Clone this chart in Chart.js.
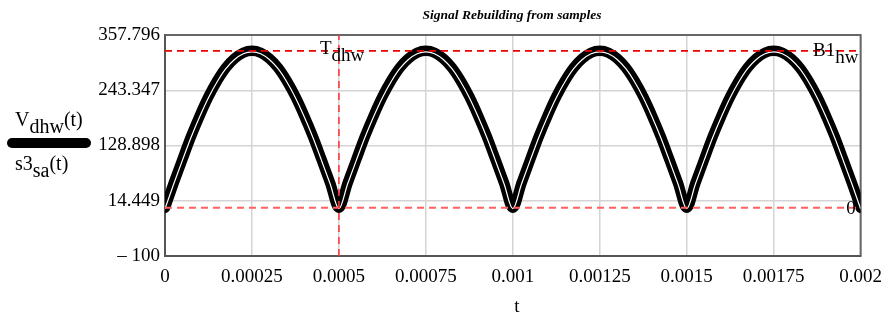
<!DOCTYPE html>
<html>
<head>
<meta charset="utf-8">
<script src="https://cdn.jsdelivr.net/npm/chart.js@4.4.1/dist/chart.umd.min.js"></script>
<style>
  html, body { margin: 0; padding: 0; background: #fff; }
  #wrap { width: 892px; height: 320px; }
</style>
</head>
<body>
<div id="wrap"><canvas id="plot" width="892" height="320"></canvas></div>
<script>
// time samples, one every 25 us over 0 .. 2 ms
const tStep = 0.000025;
const tSamples = Array.from({length: 81}, (_, i) => +(i * tStep).toFixed(6));

// rectified signal V_dhw(t)
const vDhw = [
    0, 51, 100, 148, 191, 230, 263, 290, 309, 321, 325, 321, 309, 290, 263, 230, 191, 148, 100, 51,
    0, 51, 100, 148, 191, 230, 263, 290, 309, 321, 325, 321, 309, 290, 263, 230, 191, 148, 100, 51,
    0, 51, 100, 148, 191, 230, 263, 290, 309, 321, 325, 321, 309, 290, 263, 230, 191, 148, 100, 51,
    0, 51, 100, 148, 191, 230, 263, 290, 309, 321, 325, 321, 309, 290, 263, 230, 191, 148, 100, 51,
    0
];
// rebuilt from samples s3_sa(t)
const s3Sa = [
    -2, 49, 98, 146, 189, 228, 261, 288, 307, 319, 323, 319, 307, 288, 261, 228, 189, 146, 98, 49,
    -2, 49, 98, 146, 189, 228, 261, 288, 307, 319, 323, 319, 307, 288, 261, 228, 189, 146, 98, 49,
    -2, 49, 98, 146, 189, 228, 261, 288, 307, 319, 323, 319, 307, 288, 261, 228, 189, 146, 98, 49,
    -2, 49, 98, 146, 189, 228, 261, 288, 307, 319, 323, 319, 307, 288, 261, 228, 189, 146, 98, 49,
    -2
];

// markers
const tDhw = 0.0005;
const b1Hw = 325;
const zeroLevel = 0;

// axes
const xTicks = [0, 0.00025, 0.0005, 0.00075, 0.001, 0.00125, 0.0015, 0.00175, 0.002];
const xTickLabels = ['0', '0.00025', '0.0005', '0.00075', '0.001', '0.00125', '0.0015', '0.00175', '0.002'];
const yTicks = [-100, 14.449, 128.898, 243.347, 357.796];
const yTickLabels = ['\u2013 100', '14.449', '128.898', '243.347', '357.796'];

const serif = '"Liberation Serif", "Times New Roman", serif';

function pts(ys) {
    return ys.map((y, i) => ({x: tSamples[i], y: y}));
}

// text with a subscript part, e.g. V_dhw(t)
function subText(ctx, x, y, main, sub, tail, size) {
    ctx.font = size + 'px ' + serif;
    ctx.fillText(main, x, y);
    x += ctx.measureText(main).width;
    ctx.fillText(sub, x, y + 7);
    x += ctx.measureText(sub).width;
    if (tail) ctx.fillText(tail, x, y);
}

const decorations = {
    id: 'decorations',
    beforeDatasetsDraw(chart) {
        const a = chart.chartArea;
        const ctx = chart.ctx;
        ctx.save();
        ctx.strokeStyle = '#666';
        ctx.lineWidth = 2;
        ctx.beginPath();
        ctx.moveTo(a.left, a.top);
        ctx.lineTo(a.right, a.top);
        ctx.lineTo(a.right, a.bottom);
        ctx.stroke();
        ctx.restore();
    },
    afterDraw(chart) {
        const ctx = chart.ctx;
        const xs = chart.scales.x, ys = chart.scales.y;
        ctx.save();
        ctx.fillStyle = '#000';
        ctx.textBaseline = 'alphabetic';

        // title
        ctx.font = 'italic bold 13.5px ' + serif;
        ctx.textAlign = 'center';
        ctx.fillText('Signal Rebuilding from samples', 512, 19);

        // x axis name
        ctx.font = '19px ' + serif;
        ctx.fillText('t', 517, 312);

        // legend on the left
        ctx.textAlign = 'left';
        subText(ctx, 15, 126, 'V', 'dhw', '(t)', 20);
        ctx.strokeStyle = '#000';
        ctx.lineWidth = 10;
        ctx.lineCap = 'round';
        ctx.beginPath();
        ctx.moveTo(12, 143);
        ctx.lineTo(86, 143);
        ctx.stroke();
        subText(ctx, 15, 170, 's3', 'sa', '(t)', 20);

        // marker labels
        subText(ctx, xs.getPixelForValue(tDhw) - 19, ys.getPixelForValue(b1Hw) + 3, 'T', 'dhw', '', 19);
        subText(ctx, 813, ys.getPixelForValue(b1Hw) + 5, 'B1', 'hw', '', 19);
        ctx.font = '19px ' + serif;
        ctx.textAlign = 'right';
        ctx.fillText('0', chart.chartArea.right - 5, ys.getPixelForValue(zeroLevel) + 6);
        ctx.restore();
    }
};

new Chart(document.getElementById('plot').getContext('2d'), {
    type: 'line',
    data: {
        datasets: [
            {
                label: 'T_dhw',
                data: [{x: tDhw, y: -100}, {x: tDhw, y: 357.796}],
                borderColor: '#ff3a3a',
                borderWidth: 1.6,
                borderDash: [7, 5],
                pointRadius: 0,
                order: 0
            },
            {
                label: 'B1_hw',
                data: [{x: 0, y: b1Hw}, {x: 0.002, y: b1Hw}],
                borderColor: '#ee0000',
                borderWidth: 1.6,
                borderDash: [7, 5],
                pointRadius: 0,
                order: 0
            },
            {
                label: 'zero',
                data: [{x: 0, y: zeroLevel}, {x: 0.002, y: zeroLevel}],
                borderColor: '#ff6060',
                borderWidth: 2,
                borderDash: [7, 5],
                pointRadius: 0,
                order: 0
            },
            {
                label: 's3_sa(t)',
                data: pts(s3Sa),
                borderColor: '#fff',
                borderWidth: 1.2,
                cubicInterpolationMode: 'monotone',
                pointRadius: 0,
                order: 1
            },
            {
                label: 'V_dhw(t)',
                data: pts(vDhw),
                borderColor: '#000',
                borderWidth: 10.5,
                borderCapStyle: 'round',
                borderJoinStyle: 'round',
                cubicInterpolationMode: 'monotone',
                pointRadius: 0,
                order: 2
            }
        ]
    },
    options: {
        responsive: false,
        animation: false,
        layout: { padding: { top: 35, right: 29, left: 0, bottom: 0 } },
        plugins: {
            legend: { display: false },
            title: { display: false },
            tooltip: { enabled: false }
        },
        scales: {
            x: {
                type: 'linear',
                min: 0,
                max: 0.002,
                afterBuildTicks: s => { s.ticks = xTicks.map(v => ({value: v})); },
                afterFit: s => { s.height = 64; },
                ticks: {
                    color: '#000',
                    font: { family: serif, size: 19 },
                    padding: 10,
                    maxRotation: 0,
                    autoSkip: false,
                    callback: (v, i) => xTickLabels[i]
                },
                grid: { color: '#d4d4d4', lineWidth: 1.5, drawTicks: false },
                border: { color: '#555', width: 2 }
            },
            y: {
                type: 'linear',
                min: -100,
                max: 357.796,
                afterBuildTicks: s => { s.ticks = yTicks.map(v => ({value: v})); },
                afterFit: s => { s.width = 165; },
                ticks: {
                    color: '#000',
                    font: { family: serif, size: 19 },
                    padding: 5,
                    autoSkip: false,
                    callback: (v, i) => yTickLabels[i]
                },
                grid: { color: '#d4d4d4', lineWidth: 1.5, drawTicks: false },
                border: { color: '#555', width: 2 }
            }
        }
    },
    plugins: [decorations]
});
</script>
</body>
</html>
